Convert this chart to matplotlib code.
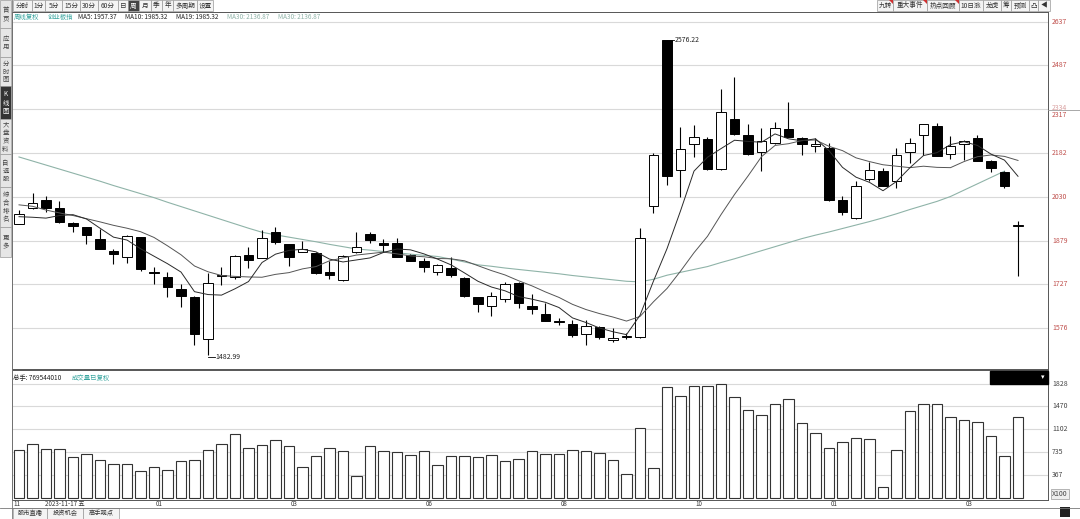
import numpy as np
import matplotlib
matplotlib.use("Agg")
import matplotlib.pyplot as plt
from matplotlib.patches import Rectangle, Polygon

plt.rcParams['font.family'] = ['Noto Sans CJK SC', 'DejaVu Sans']

# weekly candles of 创业板指
opens = [1937, 1992, 2020, 1991, 1939, 1925, 1883, 1843, 1823, 1890,
         1771, 1754, 1711, 1685, 1537, 1757, 1752, 1829, 1820, 1910,
         1866, 1841, 1837, 1771, 1742, 1839, 1901, 1870, 1872, 1829,
         1808, 1769, 1783, 1751, 1683, 1652, 1678, 1733, 1654, 1624,
         1599, 1590, 1554, 1580, 1534, 1544, 1544, 1999, 2576, 2124,
         2214, 2230, 2126, 2301, 2245, 2187, 2217, 2267, 2234, 2207,
         2201, 2020, 1956, 2093, 2121, 2087, 2187, 2245, 2278, 2179,
         2214, 2234, 2156, 2118, 1930]
closes = [1970, 2009, 1991, 1943, 1930, 1897, 1851, 1832, 1895, 1781,
          1766, 1719, 1687, 1555, 1731, 1760, 1826, 1812, 1887, 1875,
          1823, 1849, 1768, 1761, 1826, 1858, 1881, 1864, 1823, 1809,
          1786, 1795, 1760, 1687, 1660, 1687, 1729, 1662, 1643, 1602,
          1597, 1552, 1583, 1544, 1540, 1548, 1887, 2176, 2103, 2197,
          2239, 2127, 2324, 2248, 2179, 2224, 2268, 2239, 2214, 2214,
          2020, 1979, 2070, 2124, 2069, 2176, 2219, 2282, 2174, 2208,
          2226, 2156, 2130, 2068, 1931]
highs = [1985, 2044, 2034, 2018, 1942, 1927, 1918, 1849, 1898, 1893,
         1789, 1771, 1728, 1688, 1768, 1787, 1830, 1858, 1916, 1927,
         1868, 1878, 1840, 1809, 1828, 1910, 1910, 1884, 1889, 1832,
         1818, 1797, 1821, 1753, 1685, 1702, 1737, 1737, 1694, 1662,
         1612, 1604, 1604, 1583, 1575, 1559, 1922, 2182, 2576.22, 2274,
         2280, 2239, 2404, 2447, 2284, 2268, 2291, 2361, 2237, 2234,
         2219, 2034, 2084, 2153, 2130, 2201, 2234, 2284, 2288, 2242,
         2228, 2245, 2158, 2120, 1948]
lows = [1935, 1989, 1979, 1940, 1910, 1867, 1849, 1797, 1800, 1775,
        1729, 1685, 1648, 1517, 1482.99, 1725, 1747, 1783, 1818, 1867,
        1791, 1839, 1763, 1745, 1740, 1837, 1870, 1841, 1821, 1807,
        1771, 1760, 1753, 1685, 1633, 1618, 1667, 1644, 1625, 1600,
        1586, 1544, 1517, 1537, 1529, 1537, 1540, 1974, 2072, 2031,
        2170, 2125, 2124, 2246, 2177, 2121, 2215, 2237, 2176, 2187,
        2018, 1968, 1954, 2084, 2067, 2061, 2147, 2176, 2172, 2161,
        2159, 2154, 2118, 2060, 1757]
volumes = [770, 867, 782, 782, 653, 701, 605, 551, 541, 430,
           500, 450, 594, 610, 770, 862, 1022, 807, 855, 931,
           839, 493, 674, 798, 754, 358, 830, 754, 738, 685,
           754, 530, 669, 669, 653, 685, 594, 621, 754, 701,
           701, 770, 750, 727, 615, 380, 1119, 482, 1777, 1642,
           1802, 1802, 1835, 1626, 1408, 1337, 1509, 1589, 1204, 1048,
           798, 899, 963, 942, 181, 770, 1396, 1509, 1509, 1305,
           1247, 1215, 1000, 679, 1305]
ma5 = [1962, 1960, 1957, 1966, 1969, 1954, 1922, 1891, 1881, 1851,
       1825, 1799, 1770, 1702, 1692, 1690, 1712, 1737, 1803, 1832,
       1845, 1849, 1840, 1815, 1805, 1812, 1819, 1838, 1850, 1847,
       1833, 1815, 1795, 1767, 1738, 1718, 1705, 1685, 1676, 1665,
       1647, 1611, 1595, 1576, 1563, 1553, 1620, 1739, 1851, 1982,
       2120, 2168, 2198, 2227, 2223, 2220, 2249, 2232, 2225, 2232,
       2191, 2133, 2099, 2081, 2052, 2084, 2132, 2174, 2184, 2212,
       2222, 2209, 2179, 2158, 2102]
ma10 = [2003, 1998, 1985, 1975, 1966, 1955, 1944, 1932, 1922, 1910,
        1890, 1861, 1830, 1791, 1771, 1758, 1755, 1753, 1752, 1762,
        1768, 1781, 1789, 1809, 1819, 1829, 1834, 1839, 1833, 1826,
        1823, 1817, 1816, 1809, 1792, 1775, 1760, 1740, 1722, 1701,
        1682, 1658, 1640, 1626, 1614, 1600, 1616, 1667, 1713, 1773,
        1837, 1894, 1969, 2039, 2103, 2170, 2209, 2215, 2226, 2228,
        2206, 2191, 2166, 2153, 2142, 2137, 2132, 2137, 2133, 2132,
        2153, 2170, 2176, 2171, 2157]
ma30 = [2169, 2155, 2141, 2127, 2113, 2099, 2085, 2070, 2056, 2042,
        2028, 2012, 1997, 1982, 1967, 1952, 1937, 1922, 1908, 1899,
        1891, 1883, 1875, 1866, 1858, 1850, 1846, 1841, 1837, 1832,
        1828, 1824, 1815, 1805, 1795, 1790, 1784, 1779, 1774, 1769,
        1764, 1758, 1753, 1748, 1743, 1738, 1736, 1745, 1759, 1769,
        1779, 1789, 1803, 1816, 1830, 1844, 1858, 1872, 1886, 1898,
        1909, 1921, 1933, 1945, 1958, 1972, 1987, 2001, 2015, 2032,
        2054, 2076, 2098, 2120, np.nan]

price_ticks = [2637, 2487, 2182, 2030, 1879, 1727, 1576]
vol_ticks = [1828, 1470, 1102, 735, 367]
month_idx = [0, 10, 20, 30, 40, 50, 60, 70]
month_labels = ['11', '01', '03', '06', '08', '10', '01', '03']

W, H = 1080, 519
fig = plt.figure(figsize=(W / 100, H / 100), dpi=100)


def fx(x):
    return x / W


def fy(y):
    return 1 - y / H


def px_axes(x0, y0, x1, y1):
    return fig.add_axes([fx(x0), fy(y1), (x1 - x0) / W, (y1 - y0) / H])


def cell(x0, y0, x1, y1, text, fc='#f4f4f4', tc='#333333', vertical=False, size=4.8):
    fig.patches.append(Rectangle((fx(x0), fy(y1)), (x1 - x0) / W, (y1 - y0) / H,
                                 transform=fig.transFigure, facecolor=fc,
                                 edgecolor='#9a9a9a', linewidth=0.5))
    s = '\n'.join(text) if vertical else text
    fig.text(fx((x0 + x1) / 2), fy((y0 + y1) / 2), s, ha='center', va='center',
             color=tc, fontsize=size, linespacing=1.0)


idx = np.arange(len(closes))
o = np.array(opens, float)
c = np.array(closes, float)

# ---- price panel
ax = px_axes(12, 12, 1048, 369)
ax.set_xlim((12 - 19) / 13.5, (1048 - 19) / 13.5)
ax.set_ylim(2713.28 - 3.4673 * 369, 2713.28 - 3.4673 * 12)
for p in price_ticks + [2334]:
    ax.axhline(p, color='#d9d9d9', lw=0.8, zorder=0)

ax.plot(idx, ma30, color='#8fb3a8', lw=0.8, zorder=1)
ax.vlines(idx, lows, highs, color='black', lw=0.8, zorder=2)
up = c >= o
bottom = np.minimum(o, c)
height = np.maximum(np.abs(c - o), 2.5)
ax.bar(idx[up], height[up], bottom=bottom[up], width=0.74, color='white',
       edgecolor='black', linewidth=0.7, zorder=3)
ax.bar(idx[~up], height[~up], bottom=bottom[~up], width=0.74, color='black',
       edgecolor='black', linewidth=0.7, zorder=3)
ax.plot(idx, ma10, color='#555555', lw=0.7, zorder=4)
ax.plot(idx, ma5, color='#2a2a2a', lw=0.7, zorder=4)

hi = int(np.argmax(highs))
lo = int(np.argmin(lows))
ax.plot([hi + 0.37, hi + 0.55], [highs[hi], highs[hi]], color='black', lw=0.6)
ax.text(hi + 0.55, highs[hi], '%.2f' % highs[hi], fontsize=5, va='center', color='#222')
ax.plot([lo, lo + 0.5], [lows[lo] - 6, lows[lo] - 6], color='black', lw=0.6)
ax.text(lo + 0.55, lows[lo] - 6, '%.2f' % lows[lo], fontsize=5, va='center', color='#222')

for sp in ['top', 'bottom', 'left', 'right']:
    ax.spines[sp].set_color('#555555')
    ax.spines[sp].set_linewidth(0.7)
ax.set_xticks([])
ax.set_yticks([])

for p in price_ticks:
    ax.text(1.004, p, str(p), transform=ax.get_yaxis_transform(), fontsize=5,
            va='center', color='#c0504d')
ax.text(1.004, 2338, '2334', transform=ax.get_yaxis_transform(), fontsize=5,
        va='center', color='#d9a0a0')
ax.text(1.004, 2314, '2317', transform=ax.get_yaxis_transform(), fontsize=5,
        va='center', color='#c0504d')
fig.add_artist(plt.Line2D([fx(1048), fx(1080)], [fy(110), fy(110)], color='#9a9a9a', lw=0.6))

# ---- volume panel
axv = px_axes(12, 370, 1048, 500)
axv.set_xlim(ax.get_xlim())
axv.set_ylim((498 - 500) * 16.05, (498 - 370) * 16.05)
for v in vol_ticks:
    axv.axhline(v, color='#d9d9d9', lw=0.8, zorder=0)
axv.bar(idx, volumes, width=0.76, color='white', edgecolor='#333333', linewidth=0.8, zorder=2)
for sp in ['top', 'bottom', 'left', 'right']:
    axv.spines[sp].set_color('#555555')
    axv.spines[sp].set_linewidth(0.7)
axv.set_xticks([])
axv.set_yticks([])
for v in vol_ticks:
    axv.text(1.004, v, str(v), transform=axv.get_yaxis_transform(), fontsize=5,
             va='center', color='#444')
axv.text(1.004, 60, 'X100', transform=axv.get_yaxis_transform(), fontsize=5,
         va='center', color='#444',
         bbox=dict(boxstyle='square,pad=0.15', fc='#eeeeee', ec='#999999', lw=0.5))
fig.patches.append(Rectangle((fx(990), fy(384)), 58 / W, 13 / H, transform=fig.transFigure,
                             facecolor='black', edgecolor='black'))
fig.text(fx(1043), fy(377.5), '▾', color='white', fontsize=5, ha='center', va='center')

# month labels under the volume panel
lab_y = -3.5 / 130
for i, lab in zip(month_idx, month_labels):
    xoff = -0.45 if i == 0 else 0.1
    axv.text(i + xoff, lab_y, lab, transform=axv.get_xaxis_transform(), fontsize=4.5,
             va='center', ha='left', color='#333')
axv.text(1.9, lab_y, '2023-11-17 五', transform=axv.get_xaxis_transform(), fontsize=4.5,
         va='center', ha='left', color='#333')

# ---- header texts
fig.text(fx(14), fy(17), '周线复权', color='#3aa6a0', fontsize=4.6, va='center')
fig.text(fx(48), fy(17), '创业板指', color='#3aa6a0', fontsize=4.6, va='center')
fig.text(fx(78), fy(17), 'MA5: 1957.37', color='#222', fontsize=4.6, va='center')
fig.text(fx(125), fy(17), 'MA10: 1985.32', color='#222', fontsize=4.6, va='center')
fig.text(fx(176), fy(17), 'MA19: 1985.32', color='#222', fontsize=4.6, va='center')
fig.text(fx(227), fy(17), 'MA30: 2136.87', color='#8fb3a8', fontsize=4.6, va='center')
fig.text(fx(278), fy(17), 'MA30: 2136.87', color='#8fb3a8', fontsize=4.6, va='center')
fig.text(fx(13), fy(378), '总手: 769544010', color='#222', fontsize=4.6, va='center')
fig.text(fx(72), fy(378), '成交量已复权', color='#3aa6a0', fontsize=4.6, va='center')

# ---- tab bars
top_tabs = ['分时', '1分', '5分', '15分', '30分', '60分', '日', '周', '月', '季', '年', '多周期', '设置']
top_edges = [13, 32, 45, 62, 80, 98, 118, 128, 139, 151, 162, 173, 197, 213]
for k, t in enumerate(top_tabs):
    sel = t == '周'
    cell(top_edges[k], 0, top_edges[k + 1], 11, t,
         fc='#444444' if sel else '#f4f4f4', tc='white' if sel else '#333')

right_tabs = ['九转', '重大事件', '热点回顾', '10日涨', '龙虎', '筹', '预测', '凸', '◀']
right_edges = [877, 893, 927, 959, 983, 1001, 1011, 1029, 1038, 1050]
for k, t in enumerate(right_tabs):
    cell(right_edges[k], 0, right_edges[k + 1], 11, t)
for xe in right_edges[1:4]:
    fig.patches.append(Polygon([(fx(xe - 4), fy(0)), (fx(xe), fy(0)), (fx(xe), fy(4))],
                               closed=True, transform=fig.transFigure, facecolor='#d03030'))

left_tabs = [('首页', 0, 28), ('应用', 28, 57), ('分时图', 57, 86), ('K线图', 86, 119),
             ('大盘资料', 119, 154), ('自选股', 154, 187), ('综合排名', 187, 227), ('更多', 227, 257)]
for t, y0, y1 in left_tabs:
    sel = t == 'K线图'
    cell(0, y0, 11, y1, t, fc='#333333' if sel else '#e6e6e6',
         tc='white' if sel else '#444', vertical=True, size=4.6)

bottom_tabs = [('股市直播', 13, 47), ('投资机会', 47, 83), ('高手观点', 83, 119)]
for t, x0, x1 in bottom_tabs:
    cell(x0, 508, x1, 519, t, size=4.5)
fig.add_artist(plt.Line2D([fx(0), fx(1080)], [fy(508), fy(508)], color='#777777', lw=0.6))
fig.add_artist(plt.Line2D([fx(12), fx(12)], [fy(0), fy(519)], color='#777777', lw=0.6))
fig.patches.append(Rectangle((fx(1060), fy(517)), 10 / W, 10 / H, transform=fig.transFigure,
                             facecolor='#222222'))

fig.savefig('out.png', dpi=100, facecolor='white')
